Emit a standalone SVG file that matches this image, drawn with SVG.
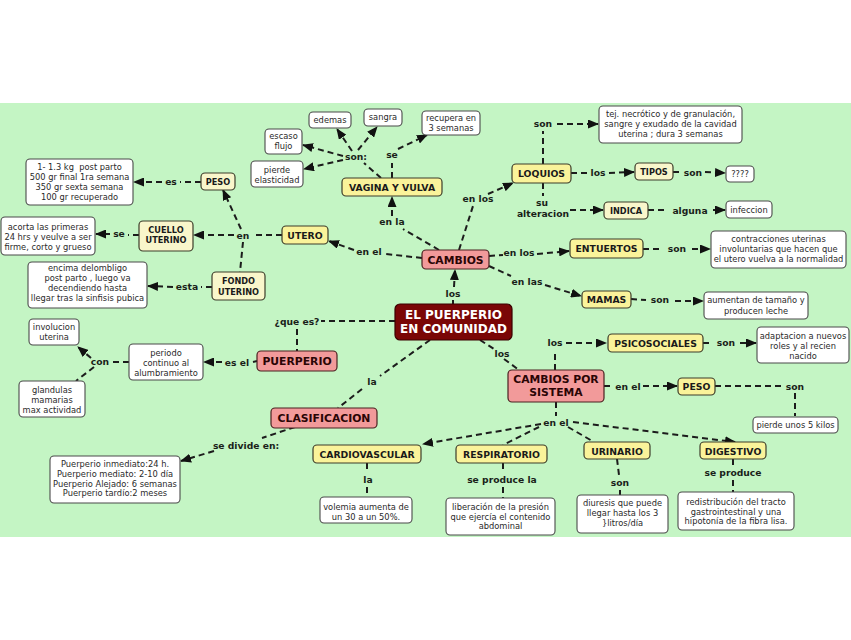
<svg xmlns="http://www.w3.org/2000/svg" width="851" height="640" viewBox="0 0 851 640">
<defs>
<style>
.bg{fill:#c4f5c4}
rect.y{fill:#faf39a;stroke:#3d3d2a;stroke-width:1.2}
rect.p{fill:#f9f6cb;stroke:#3d3d2a;stroke-width:1.2}
rect.k{fill:#f29a9a;stroke:#4a2020;stroke-width:1.2}
rect.c{fill:#7a0606;stroke:#3a0000;stroke-width:1.2}
rect.w{fill:#ffffff;stroke:#4a4a4a;stroke-width:1.1}
text{font-family:"DejaVu Sans",Verdana,sans-serif;text-anchor:middle}
.ty{font-size:9.3px;font-weight:bold;fill:#1a1a1a}
.tp{font-size:8.2px;font-weight:bold;fill:#1a1a1a}
.tk{font-size:10.8px;font-weight:bold;fill:#2a0505}
.tc{font-size:12px;font-weight:bold;fill:#ffffff}
.tw{font-size:8.3px;fill:#2a2a2a;white-space:pre}
.tl{font-size:9.2px;font-weight:bold;fill:#1a1f1a}
.ln{fill:none;stroke:#1c1c1c;stroke-width:2;stroke-dasharray:6,4}
.ar{marker-end:url(#ah)}
</style>
<marker id="ah" markerUnits="userSpaceOnUse" markerWidth="11" markerHeight="9" refX="10" refY="4.5" orient="auto">
<path d="M0,0 L11,4.5 L0,9 z" fill="#111"/>
</marker>
</defs>
<rect x="0" y="0" width="851" height="640" fill="#ffffff"/>
<rect class="bg" x="0" y="103" width="851" height="434"/>

<g id="connectors">
<path class="ln" d="M453,304 V300"/>
<path class="ln ar" d="M454,287 L455,270"/>
<path class="ln" d="M439,250 L403,229"/>
<path class="ln ar" d="M392,216 L392,197"/>
<path class="ln" d="M459,250 L473,206"/>
<path class="ln ar" d="M488,194 L513,183"/>
<path class="ln" d="M422,258 L386,254"/>
<path class="ln ar" d="M354,250 L329,241"/>
<path class="ln" d="M489,256 L503,255"/>
<path class="ln ar" d="M537,254 L569,251"/>
<path class="ln" d="M489,266 L511,276"/>
<path class="ln ar" d="M545,285 L581,296"/>
<path class="ln" d="M381,178 L364,163"/>
<path class="ln ar" d="M343,156 L303,145"/>
<path class="ln ar" d="M343,160 L304,169"/>
<path class="ln ar" d="M352,151 L337,129"/>
<path class="ln ar" d="M358,150 L377,127"/>
<path class="ln" d="M392,178 L392,163"/>
<path class="ln ar" d="M398,149 L427,135"/>
<path class="ln" d="M543,164 L543,131"/>
<path class="ln ar" d="M557,124 L598,124"/>
<path class="ln" d="M571,173 L587,173"/>
<path class="ln ar" d="M609,173 L634,172"/>
<path class="ln" d="M673,172 L682,172"/>
<path class="ln ar" d="M705,172 L725,173"/>
<path class="ln" d="M543,183 L543,196"/>
<path class="ln ar" d="M570,210 L603,210"/>
<path class="ln" d="M648,210 L667,210"/>
<path class="ln ar" d="M713,210 L725,210"/>
<path class="ln" d="M643,249 L662,249"/>
<path class="ln ar" d="M692,249 L710,249"/>
<path class="ln" d="M631,299 L646,300"/>
<path class="ln ar" d="M675,301 L703,301"/>
<path class="ln" d="M282,235 L253,235"/>
<path class="ln ar" d="M234,235 L194,235"/>
<path class="ln ar" d="M241,229 L223,190"/>
<path class="ln" d="M243,242 L240,272"/>
<path class="ln" d="M201,182 L180,182"/>
<path class="ln ar" d="M162,182 L134,182"/>
<path class="ln" d="M139,235 L128,235"/>
<path class="ln ar" d="M110,234 L96,234"/>
<path class="ln" d="M212,287 L201,287"/>
<path class="ln ar" d="M173,287 L148,286"/>
<path class="ln" d="M395,321 L321,321"/>
<path class="ln" d="M297,329 L297,351"/>
<path class="ln" d="M257,361 L253,362"/>
<path class="ln ar" d="M222,362 L204,362"/>
<path class="ln" d="M129,362 L112,362"/>
<path class="ln ar" d="M91,358 L78,347"/>
<path class="ln" d="M94,367 L76,381"/>
<path class="ln" d="M430,340 L380,376"/>
<path class="ln" d="M362,389 L338,408"/>
<path class="ln" d="M295,427 L262,438"/>
<path class="ln ar" d="M214,451 L181,461"/>
<path class="ln" d="M480,340 L494,349"/>
<path class="ln" d="M504,359 L519,370"/>
<path class="ln" d="M555,370 L555,350"/>
<path class="ln ar" d="M566,343 L606,343"/>
<path class="ln" d="M703,343 L713,343"/>
<path class="ln ar" d="M740,343 L756,343"/>
<path class="ln" d="M604,386 L614,386"/>
<path class="ln ar" d="M643,386 L677,386"/>
<path class="ln" d="M715,386 L782,386"/>
<path class="ln" d="M795,393 L795,416"/>
<path class="ln" d="M556,402 L556,416"/>
<path class="ln ar" d="M541,424 L423,444"/>
<path class="ln" d="M539,427 L503,445"/>
<path class="ln" d="M568,427 L594,442"/>
<path class="ln ar" d="M573,422 L735,442"/>
<path class="ln" d="M367,463 L367,473"/>
<path class="ln" d="M367,487 L367,497"/>
<path class="ln" d="M503,463 L503,472"/>
<path class="ln" d="M503,487 L503,498"/>
<path class="ln" d="M617,459 L619,475"/>
<path class="ln" d="M620,490 L620,495"/>
<path class="ln" d="M733,459 L733,465"/>
<path class="ln" d="M733,480 L733,492"/>
</g>

<g id="link-labels">
<text class="tl" x="453" y="297">los</text>
<text class="tl" x="392" y="225">en la</text>
<text class="tl" x="478" y="202">en los</text>
<text class="tl" x="369" y="255">en el</text>
<text class="tl" x="519" y="256">en los</text>
<text class="tl" x="527" y="285">en las</text>
<text class="tl" x="356" y="160">son:</text>
<text class="tl" x="392" y="158">se</text>
<text class="tl" x="543" y="127">son</text>
<text class="tl" x="598" y="176">los</text>
<text class="tl" x="693" y="176">son</text>
<text class="tl" x="542" y="206">su</text>
<text class="tl" x="543" y="217">alteracion</text>
<text class="tl" x="690" y="214">alguna</text>
<text class="tl" x="677" y="252">son</text>
<text class="tl" x="660" y="303">son</text>
<text class="tl" x="243" y="239">en</text>
<text class="tl" x="171" y="185">es</text>
<text class="tl" x="119" y="237">se</text>
<text class="tl" x="187" y="290">esta</text>
<text class="tl" x="297" y="325">¿que es?</text>
<text class="tl" x="237" y="366">es el</text>
<text class="tl" x="100" y="365">con</text>
<text class="tl" x="372" y="385">la</text>
<text class="tl" x="246" y="449">se divide en:</text>
<text class="tl" x="502" y="357">los</text>
<text class="tl" x="555" y="346">los</text>
<text class="tl" x="726" y="346">son</text>
<text class="tl" x="628" y="390">en el</text>
<text class="tl" x="795" y="390">son</text>
<text class="tl" x="556" y="426">en el</text>
<text class="tl" x="368" y="483">la</text>
<text class="tl" x="502" y="483">se produce la</text>
<text class="tl" x="620" y="486">son</text>
<text class="tl" x="733" y="476">se produce</text>
</g>

<g id="n-puerperio-comunidad"><rect class="c" x="395" y="304" width="117" height="36" rx="5"/><text class="tc" x="453.5" y="318.5">EL PUERPERIO</text><text class="tc" x="453.5" y="333">EN COMUNIDAD</text></g>
<g id="n-cambios"><rect class="k" x="422" y="250" width="67" height="19" rx="4"/><text class="tk" x="455.5" y="263.5">CAMBIOS</text></g>
<g id="n-puerperio"><rect class="k" x="257" y="351" width="80" height="20" rx="4"/><text class="tk" x="297" y="365">PUERPERIO</text></g>
<g id="n-clasificacion"><rect class="k" x="271" y="408" width="106" height="20" rx="4"/><text class="tk" x="324" y="422">CLASIFICACION</text></g>
<g id="n-cambios-sistema"><rect class="k" x="508" y="370" width="96" height="32" rx="4"/><text class="tk" x="556" y="383">CAMBIOS POR</text><text class="tk" x="556" y="396">SISTEMA</text></g>

<g id="n-vagina"><rect class="y" x="342" y="178" width="100" height="18" rx="4"/><text class="ty" x="392" y="191">VAGINA Y VULVA</text></g>
<g id="n-utero"><rect class="y" x="282" y="226" width="46" height="18" rx="4"/><text class="ty" x="305" y="239">UTERO</text></g>
<g id="n-loquios"><rect class="y" x="512" y="164" width="59" height="19" rx="4"/><text class="ty" x="541.5" y="177">LOQUIOS</text></g>
<g id="n-entuertos"><rect class="y" x="570" y="239" width="73" height="19" rx="4"/><text class="ty" x="606.5" y="252">ENTUERTOS</text></g>
<g id="n-mamas"><rect class="y" x="582" y="291" width="49" height="17" rx="4"/><text class="ty" x="606.5" y="303">MAMAS</text></g>
<g id="n-psicosociales"><rect class="y" x="608" y="334" width="95" height="18" rx="4"/><text class="ty" x="655.5" y="347">PSICOSOCIALES</text></g>
<g id="n-peso-r"><rect class="y" x="678" y="378" width="37" height="17" rx="4"/><text class="ty" x="696.5" y="390">PESO</text></g>
<g id="n-cardio"><rect class="y" x="313" y="445" width="108" height="18" rx="4"/><text class="ty" x="367" y="458">CARDIOVASCULAR</text></g>
<g id="n-resp"><rect class="y" x="456" y="445" width="91" height="18" rx="4"/><text class="ty" x="501.5" y="458">RESPIRATORIO</text></g>
<g id="n-urinario"><rect class="y" x="584" y="442" width="66" height="17" rx="4"/><text class="ty" x="617" y="454.5">URINARIO</text></g>
<g id="n-digestivo"><rect class="y" x="700" y="442" width="66" height="17" rx="4"/><text class="ty" x="733" y="454.5">DIGESTIVO</text></g>

<g id="n-peso-l"><rect class="p" x="201" y="173" width="34" height="17" rx="4"/><text class="tp" x="218" y="184.5">PESO</text></g>
<g id="n-cuello"><rect class="p" x="139" y="221" width="54" height="30" rx="4"/><text class="tp" x="166" y="232.5">CUELLO</text><text class="tp" x="166" y="243">UTERINO</text></g>
<g id="n-fondo"><rect class="p" x="212" y="272" width="53" height="28" rx="4"/><text class="tp" x="238.5" y="284">FONDO</text><text class="tp" x="238.5" y="294.5">UTERINO</text></g>
<g id="n-tipos"><rect class="p" x="635" y="163" width="38" height="17" rx="4"/><text class="tp" x="654" y="175">TIPOS</text></g>
<g id="n-indica"><rect class="p" x="604" y="202" width="44" height="17" rx="4"/><text class="tp" x="626" y="213.5">INDICA</text></g>

<g id="n-edemas"><rect class="w" x="309" y="112" width="42" height="16" rx="4"/><text class="tw" x="330" y="123">edemas</text></g>
<g id="n-sangra"><rect class="w" x="364" y="109" width="38" height="17" rx="4"/><text class="tw" x="383" y="120">sangra</text></g>
<g id="n-recupera"><rect class="w" x="422" y="111" width="58" height="24" rx="4"/><text class="tw" x="451" y="121">recupera en</text><text class="tw" x="451" y="131">3 semanas</text></g>
<g id="n-escaso"><rect class="w" x="265" y="129" width="37" height="25" rx="4"/><text class="tw" x="283.5" y="139">escaso</text><text class="tw" x="283.5" y="149">flujo</text></g>
<g id="n-pierde-elast"><rect class="w" x="251" y="161" width="52" height="26" rx="4"/><text class="tw" x="277" y="173">pierde</text><text class="tw" x="277" y="183">elasticidad</text></g>
<g id="n-tej"><rect class="w" x="599" y="106" width="143" height="37" rx="4"/><text class="tw" x="670.5" y="117">tej. necrótico y de granulación,</text><text class="tw" x="670.5" y="127">sangre y exudado de la cavidad</text><text class="tw" x="670.5" y="136.5">uterina ; dura 3 semanas</text></g>
<g id="n-q"><rect class="w" x="726" y="166" width="28" height="16" rx="4"/><text class="tw" x="740" y="177">????</text></g>
<g id="n-infeccion"><rect class="w" x="726" y="201" width="46" height="17" rx="4"/><text class="tw" x="749" y="212.5">infeccion</text></g>
<g id="n-contracciones"><rect class="w" x="711" y="231" width="135" height="37" rx="4"/><text class="tw" x="778.5" y="241.5">contracciones uterinas</text><text class="tw" x="778.5" y="251.5">involuntarias que hacen que</text><text class="tw" x="778.5" y="261.5">el utero vuelva a la normalidad</text></g>
<g id="n-aumentan"><rect class="w" x="704" y="292" width="104" height="27" rx="4"/><text class="tw" x="756" y="303">aumentan de tamaño y</text><text class="tw" x="756" y="314">producen leche</text></g>
<g id="n-kg"><rect class="w" x="26" y="159" width="107" height="46" rx="4"/><text class="tw" x="79.5" y="170">1- 1.3 kg  post parto</text><text class="tw" x="79.5" y="180">500 gr final 1ra semana</text><text class="tw" x="79.5" y="190">350 gr sexta semana</text><text class="tw" x="79.5" y="200">100 gr recuperado</text></g>
<g id="n-acorta"><rect class="w" x="1" y="217" width="94" height="38" rx="4"/><text class="tw" x="48" y="230">acorta las primeras</text><text class="tw" x="48" y="240">24 hrs y veulve a ser</text><text class="tw" x="48" y="250">firme, corto y grueso</text></g>
<g id="n-encima"><rect class="w" x="28" y="262" width="119" height="46" rx="4"/><text class="tw" x="87.5" y="271">encima delombligo</text><text class="tw" x="87.5" y="281">post parto , luego va</text><text class="tw" x="87.5" y="291">decendiendo hasta</text><text class="tw" x="87.5" y="301">llegar tras la sinfisis pubica</text></g>
<g id="n-involucion"><rect class="w" x="29" y="319" width="50" height="26" rx="4"/><text class="tw" x="54" y="330">involucion</text><text class="tw" x="54" y="340">uterina</text></g>
<g id="n-glandulas"><rect class="w" x="19" y="381" width="66" height="36" rx="4"/><text class="tw" x="52" y="393">glandulas</text><text class="tw" x="52" y="403">mamarias</text><text class="tw" x="52" y="413">max actividad</text></g>
<g id="n-periodo"><rect class="w" x="129" y="344" width="74" height="36" rx="4"/><text class="tw" x="166" y="356">periodo</text><text class="tw" x="166" y="366">continuo al</text><text class="tw" x="166" y="376">alumbramiento</text></g>
<g id="n-etapas"><rect class="w" x="50" y="456" width="130" height="47" rx="4"/><text class="tw" x="115" y="467">Puerperio inmediato:24 h.</text><text class="tw" x="115" y="477">Puerperio mediato: 2-10 día</text><text class="tw" x="115" y="486.5">Puerperio Alejado: 6 semanas</text><text class="tw" x="115" y="496">Puerperio tardío:2 meses</text></g>
<g id="n-adaptacion"><rect class="w" x="757" y="327" width="92" height="36" rx="4"/><text class="tw" x="803" y="339">adaptacion a nuevos</text><text class="tw" x="803" y="349">roles y al recien</text><text class="tw" x="803" y="358.5">nacido</text></g>
<g id="n-kilos"><rect class="w" x="753" y="417" width="85" height="16" rx="4"/><text class="tw" x="795.5" y="428">pierde unos 5 kilos</text></g>
<g id="n-volemia"><rect class="w" x="320" y="497" width="92" height="26" rx="4"/><text class="tw" x="366" y="510">volemia aumenta de</text><text class="tw" x="366" y="520">un 30 a un 50%.</text></g>
<g id="n-liberacion"><rect class="w" x="446" y="498" width="109" height="37" rx="4"/><text class="tw" x="500.5" y="510">liberación de la presión</text><text class="tw" x="500.5" y="519.5">que ejercía el contenido</text><text class="tw" x="500.5" y="529">abdominal</text></g>
<g id="n-diuresis"><rect class="w" x="577" y="495" width="91" height="38" rx="4"/><text class="tw" x="622.5" y="506">diuresis que puede</text><text class="tw" x="622.5" y="516">llegar hasta los 3</text><text class="tw" x="622.5" y="526">}litros/día</text></g>
<g id="n-redistribucion"><rect class="w" x="678" y="492" width="116" height="38" rx="4"/><text class="tw" x="736" y="505">redistribución del tracto</text><text class="tw" x="736" y="515">gastrointestinal y una</text><text class="tw" x="736" y="524">hipotonía de la fibra lisa.</text></g>
</svg>
